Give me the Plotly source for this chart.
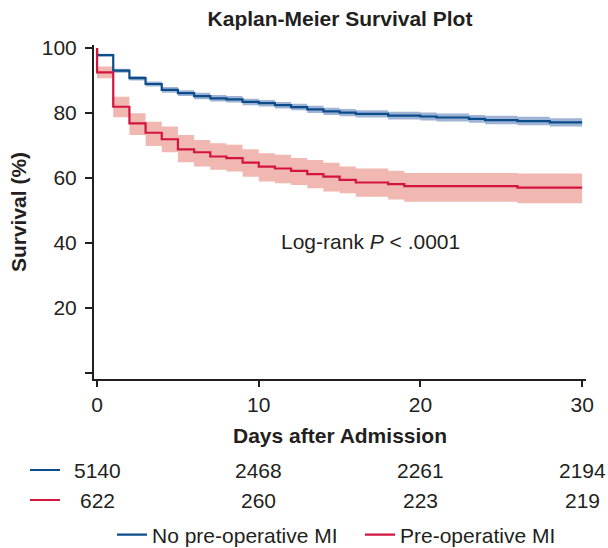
import plotly.graph_objects as go

# ---- data ----
blue_days = [0, 1, 2, 3, 4, 5, 6, 7, 8, 9, 10, 11, 12, 13, 14, 15, 16, 18, 20, 21, 23, 24, 26, 28, 30]
blue_surv = [97.8, 93.0, 90.7, 88.9, 87.1, 86.1, 85.2, 84.5, 84.2, 83.4, 83.0, 82.4, 81.8, 81.1, 80.5, 80.1, 79.7, 79.2, 78.9, 78.6, 78.2, 77.8, 77.5, 77.1, 77.1]
blue_lo = [97.4, 92.4, 90.0, 88.1, 86.2, 85.2, 84.2, 83.5, 83.2, 82.4, 82.0, 81.4, 80.8, 80.0, 79.4, 79.0, 78.6, 78.0, 77.7, 77.4, 77.0, 76.5, 76.2, 75.8, 75.8]
blue_hi = [98.2, 93.6, 91.4, 89.7, 88.0, 87.0, 86.2, 85.5, 85.2, 84.4, 84.0, 83.4, 82.8, 82.2, 81.6, 81.2, 80.8, 80.4, 80.1, 79.8, 79.4, 79.1, 78.8, 78.4, 78.4]

red_days = [0, 1, 2, 3, 4, 5, 6, 7, 8, 9, 10, 11, 12, 13, 14, 15, 16, 18, 19, 26, 30]
red_surv = [92.5, 81.9, 76.8, 73.9, 71.9, 68.8, 67.9, 66.6, 66.1, 64.7, 63.5, 62.9, 62.2, 61.2, 60.4, 59.4, 58.6, 58.1, 57.5, 57.0, 57.0]
red_lo = [90.7, 78.7, 73.2, 69.8, 67.9, 64.8, 63.5, 62.5, 62.0, 60.4, 58.9, 58.4, 57.8, 56.8, 55.8, 55.3, 54.2, 53.4, 52.7, 52.2, 52.2]
red_hi = [94.3, 85.0, 79.9, 77.3, 75.8, 73.2, 71.7, 70.7, 70.2, 68.8, 67.6, 67.1, 66.1, 65.5, 64.7, 63.5, 62.9, 62.2, 61.5, 61.4, 61.4]

start_day = [0]
start_surv = [100]

risk_days = [0, 10, 20, 30]
risk_blue = ["5140", "2468", "2261", "2194"]
risk_red = ["622", "260", "223", "219"]

group_names = ["No pre-operative MI", "Pre-operative MI"]
y_tickvals = [0, 20, 40, 60, 80, 100]
y_ticktext = ["", "20", "40", "60", "80", "100"]
x_tickvals = [0, 10, 20, 30]

# ---- styles ----
BLUE = "#0B4C8A"
BLUE_BAND = "#9FB4D5"
RED = "#D3143F"
RED_BAND = "#F1B8B1"
TXT = "#231F20"
FONT = "Liberation Sans, Arial, sans-serif"
FS = 21

W, H = 608, 548

fig = go.Figure()

# confidence bands
fig.add_trace(go.Scatter(x=blue_days, y=blue_lo, mode="lines", line=dict(width=0, shape="hv", color=BLUE_BAND),
                         showlegend=False, hoverinfo="skip"))
fig.add_trace(go.Scatter(x=blue_days, y=blue_hi, mode="lines", line=dict(width=0, shape="hv", color=BLUE_BAND),
                         fill="tonexty", fillcolor=BLUE_BAND, showlegend=False, hoverinfo="skip"))
fig.add_trace(go.Scatter(x=red_days, y=red_lo, mode="lines", line=dict(width=0, shape="hv", color=RED_BAND),
                         showlegend=False, hoverinfo="skip"))
fig.add_trace(go.Scatter(x=red_days, y=red_hi, mode="lines", line=dict(width=0, shape="hv", color=RED_BAND),
                         fill="tonexty", fillcolor=RED_BAND, showlegend=False, hoverinfo="skip"))

# survival curves
fig.add_trace(go.Scatter(x=start_day + blue_days, y=start_surv + blue_surv, mode="lines",
                         line=dict(color=BLUE, width=2.2, shape="hv"), name=group_names[0]))
fig.add_trace(go.Scatter(x=start_day + red_days, y=start_surv + red_surv, mode="lines",
                         line=dict(color=RED, width=2.2, shape="hv"), name=group_names[1]))

ROW1, ROW2 = -0.2725, -0.3623
annotations = [
    dict(text="Log-rank <i>P</i> < .0001", x=16.9, y=40.3, xref="x", yref="y", showarrow=False,
         font=dict(size=FS, color=TXT, family=FONT)),
]
for d, b, r in zip(risk_days, risk_blue, risk_red):
    annotations.append(dict(text=b, x=d, y=ROW1, xref="x", yref="paper", showarrow=False,
                            xanchor="center", yanchor="middle", font=dict(size=FS, color=TXT, family=FONT)))
    annotations.append(dict(text=r, x=d, y=ROW2, xref="x", yref="paper", showarrow=False,
                            xanchor="center", yanchor="middle", font=dict(size=FS, color=TXT, family=FONT)))

shapes = [
    dict(type="line", xref="paper", yref="paper", x0=-0.1301, x1=-0.0691, y0=ROW1, y1=ROW1,
         line=dict(color=BLUE, width=2)),
    dict(type="line", xref="paper", yref="paper", x0=-0.1301, x1=-0.0691, y0=ROW2, y1=ROW2,
         line=dict(color=RED, width=2)),
]

fig.update_layout(
    width=W, height=H,
    margin=dict(l=94, r=22, t=45, b=169),
    paper_bgcolor="white", plot_bgcolor="white",
    font=dict(family=FONT, size=FS, color=TXT),
    title=dict(text="<b>Kaplan-Meier Survival Plot</b>", x=340 / W, xref="container", xanchor="center",
               y=1 - 19 / H, yref="container", yanchor="middle",
               font=dict(size=FS, color=TXT, family=FONT)),
    annotations=annotations, shapes=shapes,
    legend=dict(orientation="h", traceorder="normal", x=112 / W, xanchor="left", xref="container",
                y=1 - 535 / H, yanchor="middle", yref="container", entrywidth=203,
                font=dict(size=FS, color=TXT, family=FONT), bgcolor="rgba(0,0,0,0)"),
    xaxis=dict(range=[-0.19, 30.24], tickvals=x_tickvals, showgrid=False, zeroline=False, automargin=False,
               showline=True, linecolor=TXT, linewidth=2, ticks="outside", ticklen=6, tickwidth=2,
               tickcolor=TXT, tickfont=dict(size=FS, color=TXT), ticklabelstandoff=0,
               title=dict(text="<b>Days after Admission</b>", standoff=13, font=dict(size=FS, color=TXT))),
    yaxis=dict(range=[-1.85, 100.9], tickvals=y_tickvals, ticktext=y_ticktext, showgrid=False, zeroline=False,
               automargin=False,
               showline=True, linecolor=TXT, linewidth=2, ticks="outside", ticklen=7, tickwidth=2,
               tickcolor=TXT, tickfont=dict(size=FS, color=TXT), ticklabelstandoff=4,
               title=dict(text="<b>Survival (%)</b>", standoff=9, font=dict(size=FS, color=TXT))),
)

# remove the browser's default 8px page margin so the figure fills the 608x548 window exactly
fig.write_html("out.html", config={"displayModeBar": False},
               post_script="document.body.style.margin='0px';document.body.style.overflow='hidden';")
